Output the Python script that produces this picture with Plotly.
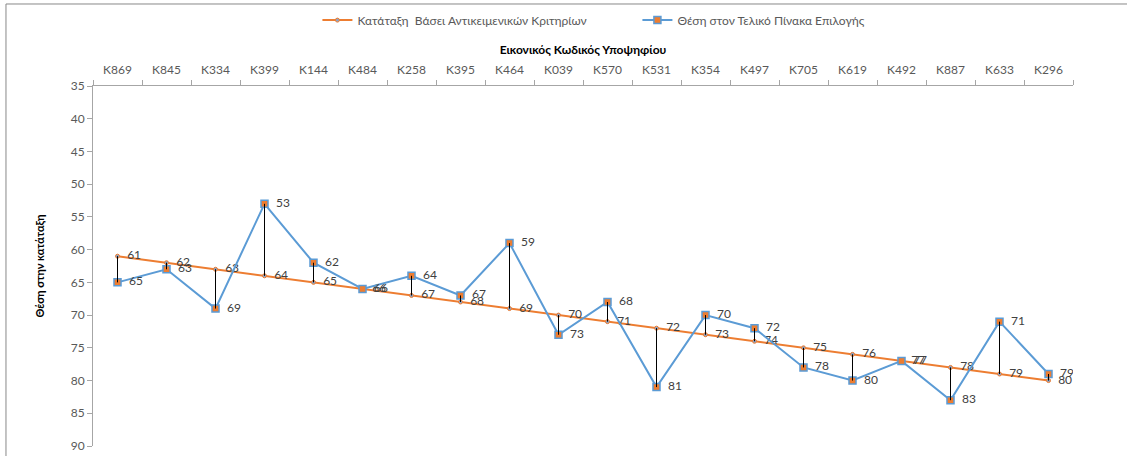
import plotly.graph_objects as go

categories = ["K869", "K845", "K334", "K399", "K144", "K484", "K258", "K395", "K464", "K039",
              "K570", "K531", "K354", "K497", "K705", "K619", "K492", "K887", "K633", "K296"]
rank_objective = [61, 62, 63, 64, 65, 66, 67, 68, 69, 70, 71, 72, 73, 74, 75, 76, 77, 78, 79, 80]
final_position = [65, 63, 69, 53, 62, 66, 64, 67, 59, 73, 68, 81, 70, 72, 78, 80, 77, 83, 71, 79]
y_ticks = [35, 40, 45, 50, 55, 60, 65, 70, 75, 80, 85, 90]

name_rank = "Κατάταξη  Βάσει Αντικειμενικών Κριτηρίων"
name_final = "Θέση στον Τελικό Πίνακα Επιλογής"
x_title = "Εικονικός Κωδικός Υποψηφίου"
y_title = "Θέση στην κατάταξη"

ORANGE = "#ED7D31"
BLUE = "#5B9BD5"
FONT = "Lato, 'Open Sans', sans-serif"
TXT = "#404040"

# high-low lines
hl_x, hl_y = [], []
for c, a, b in zip(categories, rank_objective, final_position):
    hl_x += [c, c, None]
    hl_y += [a, b, None]

fig = go.Figure()
fig.add_trace(go.Scatter(
    x=categories, y=rank_objective, name=name_rank, mode="lines+markers+text",
    line=dict(color=ORANGE, width=2),
    marker=dict(symbol="circle", size=4, color="#8CA5C8", line=dict(color=ORANGE, width=1)),
    text=["  " + str(v) for v in rank_objective], textposition="middle right",
    textfont=dict(family=FONT, size=12, color=TXT),
))
fig.add_trace(go.Scatter(
    x=categories, y=final_position, name=name_final, mode="lines+markers+text",
    line=dict(color=BLUE, width=2),
    marker=dict(symbol="square", size=7, color=ORANGE, line=dict(color=BLUE, width=1.5)),
    text=["  " + str(v) for v in final_position], textposition="middle right",
    textfont=dict(family=FONT, size=12, color=TXT),
))
fig.add_trace(go.Scatter(
    x=hl_x, y=hl_y, mode="lines", line=dict(color="#000000", width=1),
    showlegend=False, hoverinfo="skip",
))

# chart frame (left and top edges visible)
fig.add_shape(type="line", xref="paper", yref="paper", x0=-0.0888, x1=-0.0888, y0=-0.1, y1=1.2278,
              line=dict(color="#898989", width=1))
fig.add_shape(type="line", xref="paper", yref="paper", x0=-0.0888, x1=1.2, y0=1.2278, y1=1.2278,
              line=dict(color="#898989", width=1))

fig.update_layout(
    width=1127, height=456,
    margin=dict(l=93, r=54, t=86, b=10, autoexpand=False),
    paper_bgcolor="white", plot_bgcolor="white",
    font=dict(family=FONT, size=12, color="#595959"),
    legend=dict(orientation="h", x=0.229, xanchor="left", y=1.183, yanchor="middle",
                font=dict(family=FONT, size=12, color="#595959"),
                itemwidth=30, entrywidth=275, bgcolor="rgba(0,0,0,0)"),
    xaxis=dict(
        type="category", side="top", range=[-0.5, 19.5], automargin=False,
        showline=True, linecolor="#A6A6A6", linewidth=1,
        ticks="outside", ticklen=5, tickcolor="#A6A6A6", tickson="boundaries",
        ticklabelstandoff=6,
        showgrid=False, zeroline=False,
        tickfont=dict(family=FONT, size=12, color="#595959"),
        title=dict(text="<b>" + x_title + "</b>", font=dict(family=FONT, size=12, color="#000000"), standoff=5),
    ),
    yaxis=dict(
        range=[90, 35], tickvals=y_ticks, automargin=False,
        showline=True, linecolor="#A6A6A6", linewidth=1,
        ticks="outside", ticklen=5, tickcolor="#A6A6A6",
        showgrid=False, zeroline=False,
        tickfont=dict(family=FONT, size=12, color="#595959"),
        title=dict(text="<b>" + y_title + "</b>", font=dict(family=FONT, size=11, color="#000000"), standoff=23),
    ),
)

fig.write_html("out.html", config={"displayModeBar": False},
               post_script="document.body.style.margin='0';")
